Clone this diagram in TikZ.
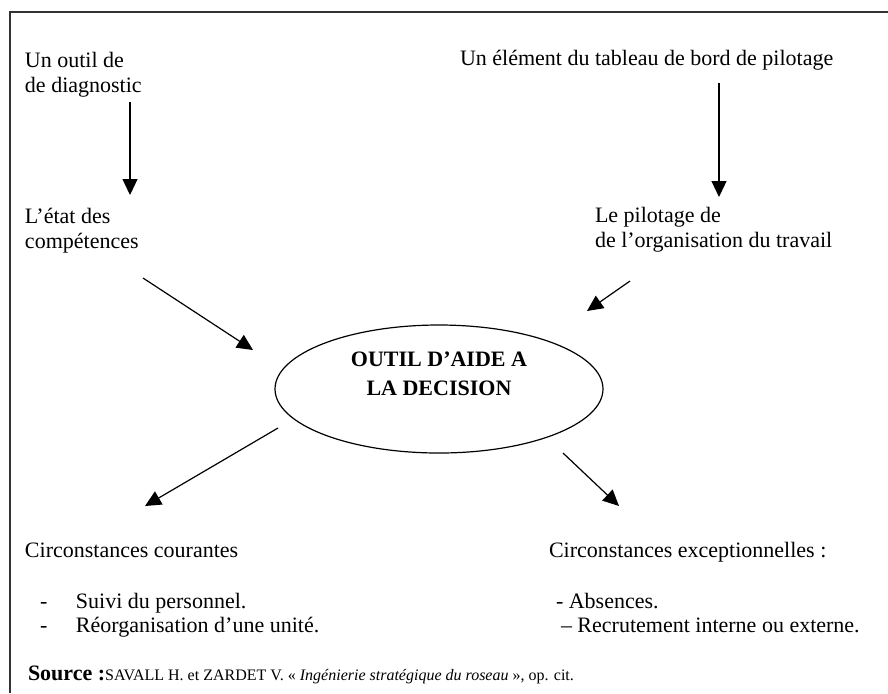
\documentclass[tikz,border=0pt]{standalone}
\usepackage{fontspec}
\setmainfont{Liberation Serif}
\usetikzlibrary{shapes.geometric,arrows.meta}
\begin{document}
\begin{tikzpicture}[x=0.5pt,y=-0.5pt,
  % multi-line nodes are placed by the baseline of their last line
  txt/.style={anchor=base west, inner sep=0pt, outer sep=0pt, align=left,
              font=\fontsize{11}{12.5}\selectfont},
  listtxt/.style={txt, font=\fontsize{11}{12}\selectfont},
  arr/.style={line width=0.6pt, -{Triangle[length=8pt,width=7.5pt]}},
  frame/.style={line width=1pt, draw=black!80},
  bubble/.style={ellipse, draw, line width=0.6pt, inner sep=0pt, outer sep=0pt,
                 minimum width=164pt, minimum height=64pt},
  bubbletxt/.style={inner sep=0pt, align=center,
                    font=\fontsize{11}{14.5}\selectfont\bfseries}]
\useasboundingbox (0,0) rectangle (888,693);

% open frame: left and top edges only
\draw[frame] (10,693) -- (10,12) -- (888,12);

% upper sources
\node[txt] (diag) at (25,92) {Un outil de\\de diagnostic};
\node[txt] (bord) at (460,65) {Un élément du tableau de bord de pilotage};

% intermediate items
\node[txt] (comp) at (25,248) {L’état des\\compétences};
\node[txt] (pilot) at (595,247) {Le pilotage de\\de l’organisation du travail};

% central decision tool
\node[bubble] (tool) at (439,389) {};
\node[bubbletxt] (tooltxt) at (439,374) {OUTIL D’AIDE A\\LA DECISION};

% outcomes
\node[txt] (cour) at (25,557) {Circonstances courantes};
\node[txt] (exc) at (549,557) {Circonstances exceptionnelles :};
\node[listtxt] (courlist) at (40,632)
  {-\hspace{14.3pt}Suivi du personnel.\\-\hspace{14.3pt}Réorganisation d’une unité.};
\node[listtxt] (exclist) at (556,632)
  {- Absences.\\\hspace{2.5pt}– Recrutement interne ou externe.};

% source line
\node[txt] (src) at (28,680)
  {\textbf{Source :}{\fontsize{8}{9}\selectfont SAVALL H. et ZARDET V. « \textit{Ingénierie stratégique du roseau} », op. cit.}};

% connector end points
\coordinate (a1s) at (130,102);  \coordinate (a1e) at (130,195);
\coordinate (a2s) at (719,83);   \coordinate (a2e) at (719,197);
\coordinate (a3s) at (143,278);  \coordinate (a3e) at (253,350);
\coordinate (a4s) at (630,281);  \coordinate (a4e) at (587,311);
\coordinate (a5s) at (278,428);  \coordinate (a5e) at (145,506);
\coordinate (a6s) at (563,453);  \coordinate (a6e) at (619,506);

\draw[arr] (a1s) -- (a1e);
\draw[arr] (a2s) -- (a2e);
\draw[arr] (a3s) -- (a3e);
\draw[arr] (a4s) -- (a4e);
\draw[arr] (a5s) -- (a5e);
\draw[arr] (a6s) -- (a6e);
\end{tikzpicture}
\end{document}
